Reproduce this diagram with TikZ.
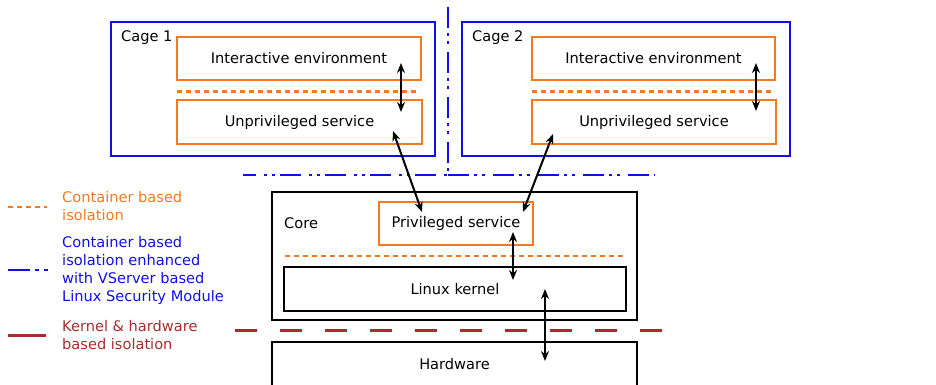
\documentclass[tikz,border=0pt]{standalone}
\usepackage{fontspec}
\setmainfont{DejaVu Sans}
\usetikzlibrary{arrows.meta}
\definecolor{orng}{RGB}{245,121,30}
\definecolor{blu}{RGB}{16,16,230}
\definecolor{brk}{RGB}{165,45,45}
\tikzset{
  txt/.style={font=\fontsize{14.6}{18}\selectfont, inner sep=0pt},
  bluebox/.style={draw=blu, line width=2.5pt, inner sep=0pt},
  orbox/.style={draw=orng, line width=2.5pt, inner sep=0pt, txt},
  blkbox/.style={draw=black, line width=2.5pt, inner sep=0pt, txt},
  ordash/.style={draw=orng, line width=2.5pt, dash pattern=on 5pt off 4pt},
  bluedd/.style={draw=blu, line width=2.5pt, dash pattern=on 21pt off 5pt on 3pt off 5pt on 3pt off 8pt},
  reddash/.style={draw=brk, line width=3pt, dash pattern=on 22pt off 23pt},
  dbl/.style={{Stealth[length=10pt,width=8pt]}-{Stealth[length=10pt,width=8pt]}, line width=2pt, black}
}
\begin{document}
\begin{tikzpicture}[x=1pt,y=-1pt]
\useasboundingbox (0,0) rectangle (936,384);
% isolation separators
\coordinate (vtop) at (448,7);
\coordinate (vcorner) at (448,175);
\coordinate (hleft) at (243,175);
\coordinate (hright) at (655,175);
\draw[bluedd] (vtop) -- (vcorner) -- (hleft);
\draw[bluedd] (vcorner) -- (hright);
\coordinate (rl) at (235,330);
\coordinate (rr) at (668,330);
\draw[reddash] (rl) -- (rr);
% Cage 1
\node[bluebox, minimum width=324pt, minimum height=134pt] (cage1) at (273,89) {};
\node[txt, anchor=west] (c1lab) at (121,38) {Cage 1};
\node[orbox, minimum width=244pt, minimum height=43pt] (ie1) at (299,58.5) {Interactive environment};
\node[orbox, minimum width=245pt, minimum height=44pt] (us1) at (299.5,122) {Unprivileged service};
\coordinate (d1l) at (177,91.5);
\coordinate (d1r) at (420,91.5);
\draw[ordash] (d1l) -- (d1r);
% Cage 2
\node[bluebox, minimum width=328pt, minimum height=134pt] (cage2) at (626,89) {};
\node[txt, anchor=west] (c2lab) at (472,38) {Cage 2};
\node[orbox, minimum width=243pt, minimum height=43pt] (ie2) at (653.5,58.5) {Interactive environment};
\node[orbox, minimum width=244pt, minimum height=44pt] (us2) at (654,122) {Unprivileged service};
\coordinate (d2l) at (532,91.5);
\coordinate (d2r) at (775,91.5);
\draw[ordash] (d2l) -- (d2r);
% Core
\node[blkbox, minimum width=365pt, minimum height=128pt] (core) at (454.5,256) {};
\node[txt, anchor=west] (corelab) at (284,223) {Core};
\node[orbox, minimum width=154pt, minimum height=43pt] (priv) at (456,223.5) {Privileged service};
\coordinate (d3l) at (285,256);
\coordinate (d3r) at (624,256);
\draw[ordash] (d3l) -- (d3r);
\node[blkbox, minimum width=342pt, minimum height=44pt] (kern) at (455,289) {Linux kernel};
\node[blkbox, minimum width=365pt, minimum height=44pt] (hw) at (454.5,364) {Hardware};
% arrows
\coordinate (a1s) at (401,63); \coordinate (a1e) at (401,112);
\draw[dbl] (a1s) -- (a1e);
\coordinate (a2s) at (756,63); \coordinate (a2e) at (756,111);
\draw[dbl] (a2s) -- (a2e);
\coordinate (a3s) at (393,131); \coordinate (a3e) at (422,212);
\draw[dbl] (a3s) -- (a3e);
\coordinate (a4s) at (553,134); \coordinate (a4e) at (523,212);
\draw[dbl] (a4s) -- (a4e);
\coordinate (a5s) at (513,232); \coordinate (a5e) at (513,280);
\draw[dbl] (a5s) -- (a5e);
\coordinate (a6s) at (545,289); \coordinate (a6e) at (545,361);
\draw[dbl] (a6s) -- (a6e);
% legend
\coordinate (l1a) at (8,207); \coordinate (l1b) at (47,207);
\draw[ordash] (l1a) -- (l1b);
\node[txt, anchor=west, align=left, text=orng] (l1t) at (62,206.5) {Container based\\isolation};
\coordinate (l2a) at (8,270); \coordinate (l2b) at (50,270);
\draw[draw=blu, line width=2.5pt, dash pattern=on 22pt off 5pt on 4pt off 5pt on 4pt off 8pt] (l2a) -- (l2b);
\node[txt, anchor=west, align=left, text=blu] (l2t) at (62,270) {Container based\\isolation enhanced\\with VServer based\\Linux Security Module};
\coordinate (l3a) at (8,335); \coordinate (l3b) at (46,335);
\draw[draw=brk, line width=3pt] (l3a) -- (l3b);
\node[txt, anchor=west, align=left, text=brk] (l3t) at (62,335.5) {Kernel \& hardware\\based isolation};
\end{tikzpicture}
\end{document}
